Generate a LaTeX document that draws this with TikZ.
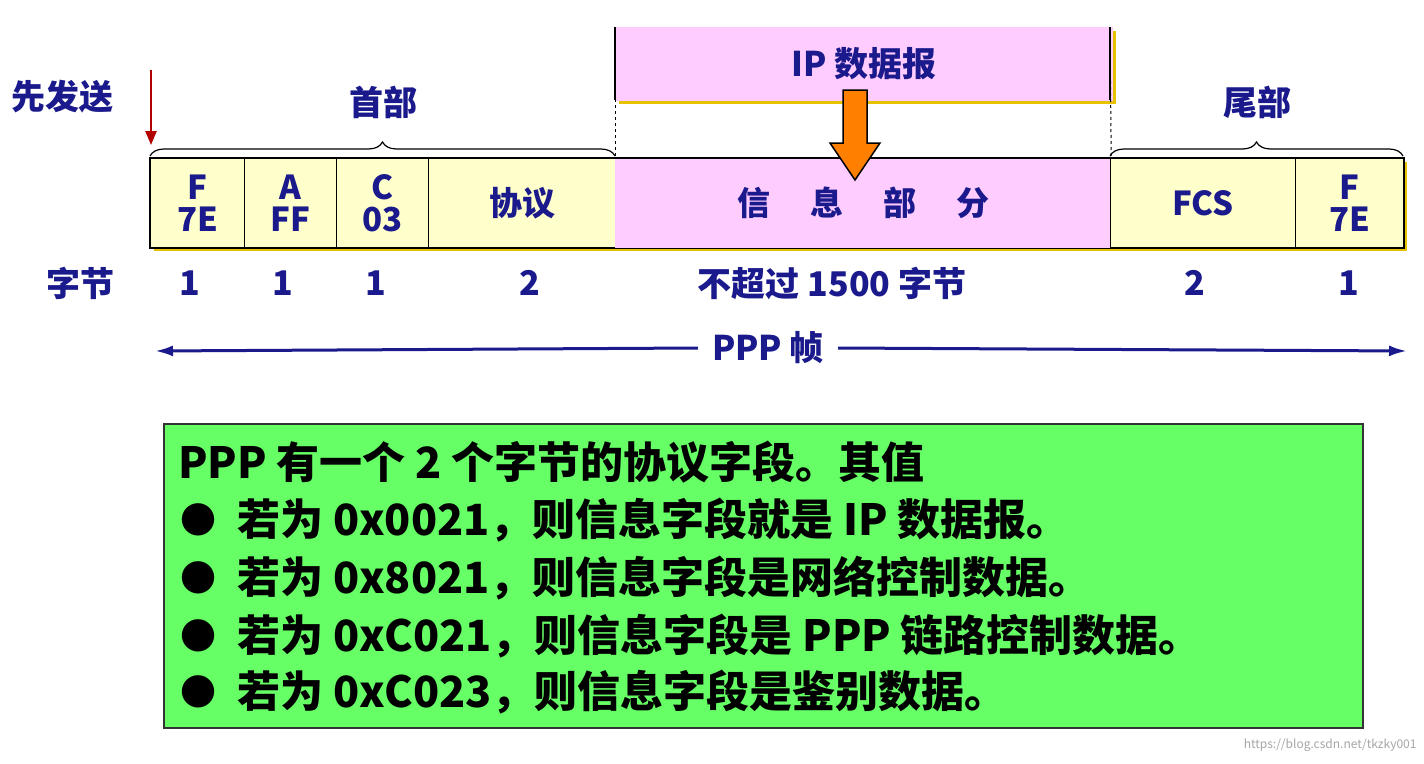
\documentclass[tikz,border=0pt]{standalone}
\usepackage{fontspec}
\setmainfont{Noto Sans CJK SC}[BoldFont={* Black}]
\usetikzlibrary{decorations.pathreplacing,arrows.meta}
\definecolor{nv}{HTML}{1A1A8C}
\definecolor{cellY}{HTML}{FFFFCC}
\definecolor{cellP}{HTML}{FFCCFF}
\definecolor{shad}{HTML}{E6C200}
\definecolor{grn}{HTML}{66FF66}
\tikzset{
 cell/.style={draw=black,line width=1.2pt,fill=cellY,minimum height=89pt,anchor=north west,inner sep=0pt,font=\bfseries\fontsize{33}{34}\selectfont,text=nv,align=center},
 lab/.style={font=\bfseries\fontsize{34}{36}\selectfont,text=nv},
 gt/.style={font=\bfseries\fontsize{43}{44}\selectfont,anchor=west,inner sep=0pt}
}
\begin{document}
\begin{tikzpicture}[x=1pt,y=-1pt]
\useasboundingbox[fill=white] (0,0) rectangle (1424,763);
% shadows
\fill[shad] (154,162) rectangle (1407,251);
\fill[shad] (619,31) rectangle (1116,104);
% cells
\node[cell,minimum width=94pt] (f1) at (150,158) {F\\[-2pt]7E};
\node[cell,minimum width=92pt] (a) at (244,158) {A\\[-2pt]FF};
\node[cell,minimum width=92pt] (c) at (336,158) {C\\[-2pt]03};
\node[cell,minimum width=187pt] (pr) at (428,158) {协议};
\node[cell,minimum width=495pt,fill=cellP,draw=cellP] (info) at (615,158) {信\hspace{40pt}息\hspace{40pt}部\hspace{40pt}分};
\node[cell,minimum width=185pt] (fcs) at (1110,158) {FCS};
\node[cell,minimum width=108pt] (f2) at (1295,158) {F\\[-2pt]7E};
\draw[line width=1.2pt] (f1.north west) rectangle (f2.south east);
% IP datagram
\node[draw=cellP,fill=cellP,minimum width=497pt,minimum height=73pt,anchor=north west,lab,text=nv] (ip) at (615,27) {IP 数据报};
\draw[dashed,line width=1pt] (615,27) -- (info.north west);
\draw[dashed,line width=1pt] (1110,27) -- (info.north east);
\draw[line width=1.2pt] (ip.north west)--(ip.south west);
\draw[line width=1.2pt] (1110,27)--(1110,100);
% orange arrow
\draw[fill=orange,line width=1.5pt] (843,90) -- (867,90) -- (867,143) -- (880,143) -- (855,180) -- (830,143) -- (843,143) -- cycle;
% braces
\draw[decorate,decoration={brace,amplitude=14pt},line width=1.2pt] (150,156) -- (615,156);
\draw[decorate,decoration={brace,amplitude=14pt},line width=1.2pt] (1110,156) -- (1403,156);
\node[lab] (hd) at (383,102) {首部};
\node[lab] (tl) at (1257,102) {尾部};
\node[lab] (send) at (62,97) {先发送};
\coordinate (s1) at (151,70); \coordinate (s2) at (151,145);
\draw[-{Triangle[length=14pt,width=11pt]},draw=red!70!black,fill=red!70!black,line width=2.5pt] (s1) -- (s2);
% byte counts
\foreach \x/\t in {80/字节,190/1,283/1,376/1,530/2,832/不超过 1500 字节,1195/2,1349/1}
  \node[lab] at (\x,283) {\t};
% PPP frame
\node[lab,inner xsep=14pt] (ppp) at (768,348) {PPP 帧};
\coordinate (pl) at (155,351); \coordinate (pr2) at (1407,351);
\draw[-{Latex[length=18pt,width=11pt]},nv,line width=3pt] (ppp.west) -- (pl);
\draw[-{Latex[length=18pt,width=11pt]},nv,line width=3pt] (ppp.east) -- (pr2);
% green box
\node[draw=black!80,line width=1.5pt,fill=grn,minimum width=1199pt,minimum height=304pt,anchor=north west] (g) at (163,423) {};
\node[gt] at (178,462) {PPP 有一个 2 个字节的协议字段。其值};
\foreach \y/\t in {520/若为 0x0021，则信息字段就是 IP 数据报。,578/若为 0x8021，则信息字段是网络控制数据。,636/若为 0xC021，则信息字段是 PPP 链路控制数据。,692/若为 0xC023，则信息字段是鉴别数据。}{
  \node[gt,font=\bfseries\fontsize{36}{36}\selectfont] at (180,\y) {●};
  \node[gt] at (237,\y) {\t};}
\node[font=\fontsize{12}{12}\selectfont,text=black!35,anchor=east] at (1420,745) {https://blog.csdn.net/tkzky001};
\end{tikzpicture}
\end{document}
